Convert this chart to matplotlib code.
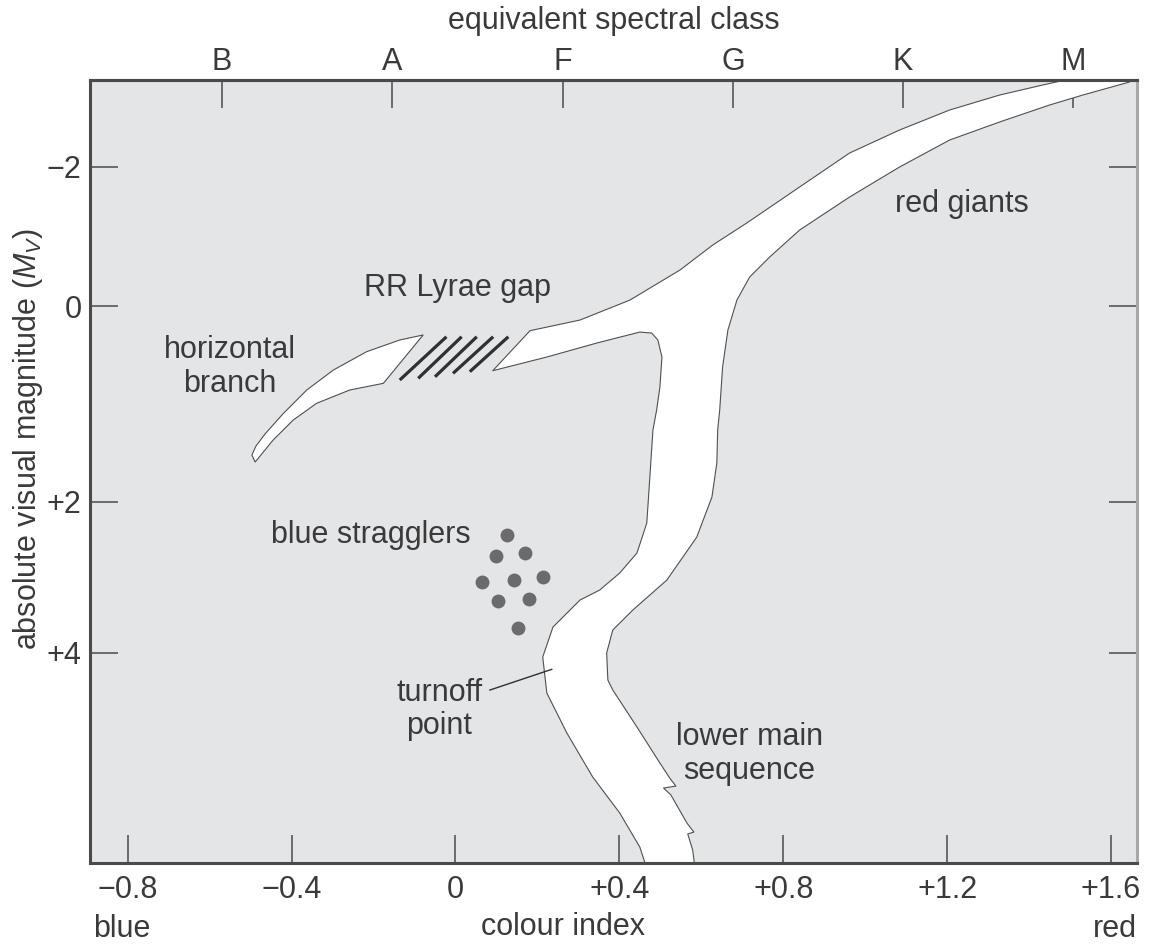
import numpy as np
import matplotlib
matplotlib.use("Agg")
import matplotlib.pyplot as plt
from matplotlib.patches import Polygon

plt.rcParams["font.family"] = ["Liberation Sans", "DejaVu Sans"]
plt.rcParams["mathtext.fontset"] = "custom"
plt.rcParams["mathtext.rm"] = "Liberation Sans"
plt.rcParams["mathtext.it"] = "Liberation Sans:italic"

# ---- data (colour index, absolute visual magnitude) ----
# outline of the red giant branch / subgiants / main sequence band
band_ci = [0.091, 0.182, 0.304, 0.426, 0.548, 0.628, 0.711, 0.840, 0.962, 1.084,
           1.206, 1.328, 1.433, 1.511, 1.657,
           1.645, 1.531, 1.450, 1.328, 1.206, 1.084, 0.962, 0.840, 0.767, 0.718,
           0.687, 0.665, 0.652, 0.645, 0.640, 0.638, 0.626, 0.589, 0.516, 0.433,
           0.384, 0.369, 0.372, 0.384, 0.443, 0.499, 0.523, 0.538, 0.508, 0.526,
           0.565, 0.582, 0.567, 0.579, 0.584,
           0.465, 0.450, 0.401, 0.335, 0.272, 0.223, 0.213, 0.238, 0.304, 0.352,
           0.401, 0.443, 0.467, 0.474, 0.482, 0.491, 0.499, 0.504, 0.494, 0.479,
           0.450, 0.345, 0.223]
band_mv = [0.661, 0.252, 0.143, -0.086, -0.517, -0.876, -1.192, -1.709, -2.197, -2.527,
           -2.814, -3.029, -3.173, -3.274, -3.302,
           -3.216, -3.029, -2.886, -2.642, -2.383, -1.996, -1.565, -1.091, -0.704, -0.416,
           -0.086, 0.245, 0.623, 1.063, 1.267, 1.604, 1.952, 2.468, 3.037, 3.434,
           3.699, 4.004, 4.362, 4.494, 4.984, 5.461, 5.660, 5.766, 5.792, 5.885,
           6.256, 6.375, 6.401, 6.613, 6.825,
           6.825, 6.574, 6.123, 5.646, 5.064, 4.534, 4.057, 3.660, 3.302, 3.170,
           2.944, 2.679, 2.282, 1.778, 1.267, 1.063, 0.828, 0.521, 0.347, 0.276,
           0.266, 0.378, 0.521]

# blue part of the horizontal branch
hb_ci = [-0.079, -0.176, -0.258, -0.339, -0.396, -0.445, -0.477, -0.489,
         -0.497, -0.487, -0.465, -0.420, -0.363, -0.298, -0.217, -0.136]
hb_mv = [0.296, 0.790, 0.858, 0.994, 1.165, 1.369, 1.533, 1.594,
         1.523, 1.431, 1.308, 1.097, 0.858, 0.654, 0.467, 0.347]

# RR Lyrae gap hatching (start / end of each stroke)
gap_ci0 = [-0.136, -0.091, -0.050, -0.006, 0.035]
gap_mv0 = [0.756, 0.739, 0.723, 0.688, 0.671]
gap_ci1 = [-0.022, 0.015, 0.052, 0.092, 0.129]
gap_mv1 = [0.314, 0.314, 0.314, 0.314, 0.314]

# blue stragglers
bs_ci = [0.126, 0.098, 0.169, 0.064, 0.143, 0.214, 0.104, 0.180, 0.153]
bs_mv = [2.441, 2.719, 2.675, 3.060, 3.037, 3.001, 3.311, 3.293, 3.669]

# turnoff pointer
turnoff_ci = [0.084, 0.235]
turnoff_mv = [4.494, 4.220]

# axes ticks
ci_ticks = [-0.8, -0.4, 0, 0.4, 0.8, 1.2, 1.6]
ci_labels = ["\u22120.8", "\u22120.4", "0", "+0.4", "+0.8", "+1.2", "+1.6"]
mv_ticks = [-2, 0, 2, 4]
mv_labels = ["\u22122", "0", "+2", "+4"]
spec_ci = [-0.570, -0.155, 0.262, 0.677, 1.092, 1.507]
spec_cls = ["B", "A", "F", "G", "K", "M"]

# the printed diagram is not linear in magnitude: piecewise scale
mag_knots = [-10, -2, 0, 2, 4, 15]
pos_knots = [-6.965, -1.393, 0.0, 1.957, 3.467, 11.772]


def fwd(m):
    return np.interp(m, mag_knots, pos_knots)


def inv(p):
    return np.interp(p, pos_knots, mag_knots)


INK = "#3a3a3a"
SPINE = "#4a4a4a"
FS = 22

fig = plt.figure(figsize=(11.5, 9.47), dpi=100)
ax = fig.add_axes([0.0783, 0.0887, 0.9104, 0.8268])
ax.set_facecolor("#e4e5e7")

ax.set_yscale("function", functions=(fwd, inv))
ax.set_xlim(-0.892, 1.6636)
ax.set_ylim(6.785, -3.245)

ax.add_patch(Polygon(np.column_stack([band_ci, band_mv]), closed=True,
                     facecolor="white", edgecolor="#505050", lw=0.8, joinstyle="round"))
ax.add_patch(Polygon(np.column_stack([hb_ci, hb_mv]), closed=True,
                     facecolor="white", edgecolor="#505050", lw=0.8, joinstyle="round"))
for x0, y0, x1, y1 in zip(gap_ci0, gap_mv0, gap_ci1, gap_mv1):
    ax.plot([x0, x1], [y0, y1], color="#303030", lw=2.3, solid_capstyle="butt")
ax.plot(bs_ci, bs_mv, "o", color="#6b6b6d", ms=10, mec="none")
ax.plot(turnoff_ci, turnoff_mv, color="#303030", lw=1.0)

txt = dict(color=INK, fontsize=FS, ha="center", va="center", linespacing=1.15)
ax.text(-0.550, 0.623, "horizontal\nbranch", **txt)
ax.text(0.006, -0.258, "RR Lyrae gap", **txt)
ax.text(-0.206, 2.441, "blue stragglers", **txt)
ax.text(-0.040, 4.752, "turnoff\npoint", **txt)
ax.text(0.718, 5.342, "lower main\nsequence", **txt)
ax.text(1.235, -1.472, "red giants", **txt)

# axes styling
for side in ["left", "bottom", "top"]:
    ax.spines[side].set_color(SPINE)
    ax.spines[side].set_linewidth(2.2)
ax.spines["right"].set_color("#a8a8a8")
ax.spines["right"].set_linewidth(2.2)

ax.set_xticks(ci_ticks, labels=ci_labels)
ax.set_yticks(mv_ticks, labels=mv_labels)
ax.minorticks_off()
ax.tick_params(axis="both", direction="in", length=20, width=1.1, color=SPINE,
               labelcolor=INK, labelsize=FS)
ax.tick_params(axis="x", pad=8.5)
ax.tick_params(axis="y", pad=6, right=True)

sec = ax.secondary_xaxis("top")
sec.set_xticks(spec_ci, labels=spec_cls)
sec.tick_params(direction="in", length=20, width=1.1, color=SPINE,
                labelcolor=INK, labelsize=FS, pad=2.5)
sec.spines["top"].set_color(SPINE)
sec.spines["top"].set_linewidth(2.2)

ax.text(0.5, 1.0656, "equivalent spectral class", transform=ax.transAxes,
        ha="center", va="baseline", color=INK, fontsize=FS)
ax.text(0.452, -0.062, "colour index", transform=ax.transAxes,
        ha="center", va="top", color=INK, fontsize=FS)
ax.text(0.003, -0.0843, "blue", transform=ax.transAxes,
        ha="left", va="center", color=INK, fontsize=FS)
ax.text(1.0, -0.0843, "red", transform=ax.transAxes,
        ha="right", va="center", color=INK, fontsize=FS)
ax.text(-0.059, 0.5415, "absolute visual magnitude ($M_V$)", transform=ax.transAxes,
        ha="center", va="center", rotation=90, color=INK, fontsize=FS)

fig.savefig("out.png", dpi=100)
